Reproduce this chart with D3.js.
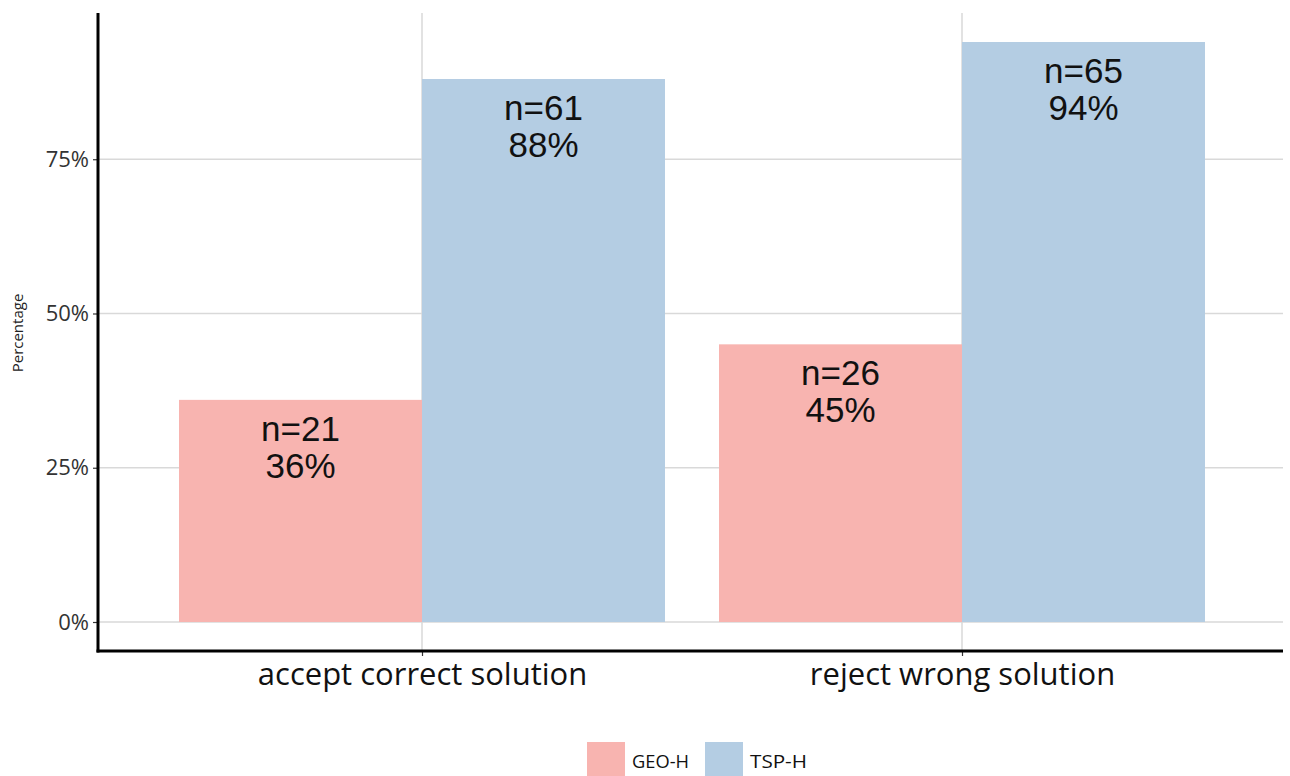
<!DOCTYPE html>
<html>
<head>
<meta charset="utf-8">
<script src="https://cdn.jsdelivr.net/npm/d3@7"></script>
<style>
html,body{margin:0;padding:0;background:#fff;}
svg{display:block;}
</style>
</head>
<body>
<svg id="chart" width="1290" height="776"></svg>
<script>
const categories = ["accept correct solution", "reject wrong solution"];
const groups = ["GEO-H", "TSP-H"];
const geoValues = [0.36, 0.45];
const tspValues = [0.88, 0.94];
const geoCounts = [21, 26];
const tspCounts = [61, 65];
const yTicks = [0, 0.25, 0.5, 0.75];
const colors = ["#f8b4b0", "#b4cde3"];

(function () {
const svg = d3.select("#chart");
const pLeft = 98, pRight = 1286, pTop = 13, pBottom = 651;

const maxV = d3.max(tspValues.concat(geoValues));
const pad = maxV * 0.05;
const y = d3.scaleLinear().domain([-pad, maxV + pad]).range([pBottom, pTop]);
const x = d3.scalePoint().domain(categories).range([pLeft, pRight]).padding(0.6);
const step = x.step();
const sub = d3.scaleBand().domain(groups).range([-step * 0.45, step * 0.45]).padding(0);

// gridlines
const grid = svg.append("g");
grid.selectAll("line.h").data(yTicks).join("line")
  .attr("x1", pLeft).attr("x2", 1283)
  .attr("y1", d => y(d)).attr("y2", d => y(d))
  .attr("stroke", "#d9d9d9").attr("stroke-width", 1.5);
grid.selectAll("line.v").data(categories).join("line")
  .attr("x1", d => x(d)).attr("x2", d => x(d))
  .attr("y1", pTop).attr("y2", pBottom)
  .attr("stroke", "#d9d9d9").attr("stroke-width", 1.5);

// bars
const rows = [];
categories.forEach((c, i) => {
  rows.push({cat: c, grp: groups[0], v: geoValues[i], n: geoCounts[i], col: colors[0]});
  rows.push({cat: c, grp: groups[1], v: tspValues[i], n: tspCounts[i], col: colors[1]});
});
svg.append("g").selectAll("rect").data(rows).join("rect")
  .attr("x", d => x(d.cat) + sub(d.grp))
  .attr("width", sub.bandwidth())
  .attr("y", d => y(d.v))
  .attr("height", d => y(0) - y(d.v))
  .attr("fill", d => d.col);

// bar labels
const lab = svg.append("g").attr("font-family", "'Liberation Sans', Arial, sans-serif")
  .attr("font-size", 35).attr("fill", "#111").attr("text-anchor", "middle");
lab.selectAll("text.n").data(rows).join("text").attr("class", "n")
  .attr("x", d => x(d.cat) + sub(d.grp) + sub.bandwidth() / 2)
  .attr("y", d => y(d.v) + 41)
  .text(d => "n=" + d.n);
lab.selectAll("text.p").data(rows).join("text").attr("class", "p")
  .attr("x", d => x(d.cat) + sub(d.grp) + sub.bandwidth() / 2)
  .attr("y", d => y(d.v) + 78)
  .text(d => Math.round(d.v * 100) + "%");

// y axis
const yAxis = d3.axisLeft(y).tickValues(yTicks).tickFormat(d3.format(".0%")).tickSize(5).tickPadding(4);
const gy = svg.append("g").attr("transform", `translate(${pLeft},0)`).call(yAxis);
gy.select(".domain").remove();
gy.selectAll(".tick line").attr("stroke", "#333").attr("stroke-width", 1.2);
gy.selectAll(".tick text").attr("font-family", "'Open Sans', sans-serif").attr("font-size", 22).attr("fill", "#333");

// x axis
const xAxis = d3.axisBottom(x).tickSize(5).tickPadding(7);
const gx = svg.append("g").attr("transform", `translate(0,${pBottom})`).call(xAxis);
gx.select(".domain").remove();
gx.selectAll(".tick line").attr("stroke", "#333").attr("stroke-width", 1.2);
gx.selectAll(".tick text").attr("font-family", "'Open Sans', sans-serif").attr("font-size", 31).attr("fill", "#111");

// axis lines
svg.append("line").attr("x1", pLeft).attr("x2", pLeft).attr("y1", pTop).attr("y2", pBottom + 1.5)
  .attr("stroke", "#000").attr("stroke-width", 3);
svg.append("line").attr("x1", pLeft - 1.5).attr("x2", 1283).attr("y1", pBottom).attr("y2", pBottom)
  .attr("stroke", "#000").attr("stroke-width", 3);

// y title
svg.append("text").attr("transform", "translate(23,333) rotate(-90)")
  .attr("text-anchor", "middle").attr("font-family", "'Open Sans', sans-serif")
  .attr("font-size", 15).attr("fill", "#222").text("Percentage");

// legend
const leg = svg.append("g");
const legX = [587, 705];
groups.forEach((g, i) => {
  leg.append("rect").attr("x", legX[i]).attr("y", 742).attr("width", 38).attr("height", 40).attr("fill", colors[i]);
  leg.append("text").attr("x", legX[i] + 45).attr("y", 768)
    .attr("font-family", "'Open Sans', sans-serif").attr("font-size", 19).attr("fill", "#111")
    .attr("textLength", 57).attr("lengthAdjust", "spacingAndGlyphs").text(g);
});
})();
</script>
</body>
</html>
